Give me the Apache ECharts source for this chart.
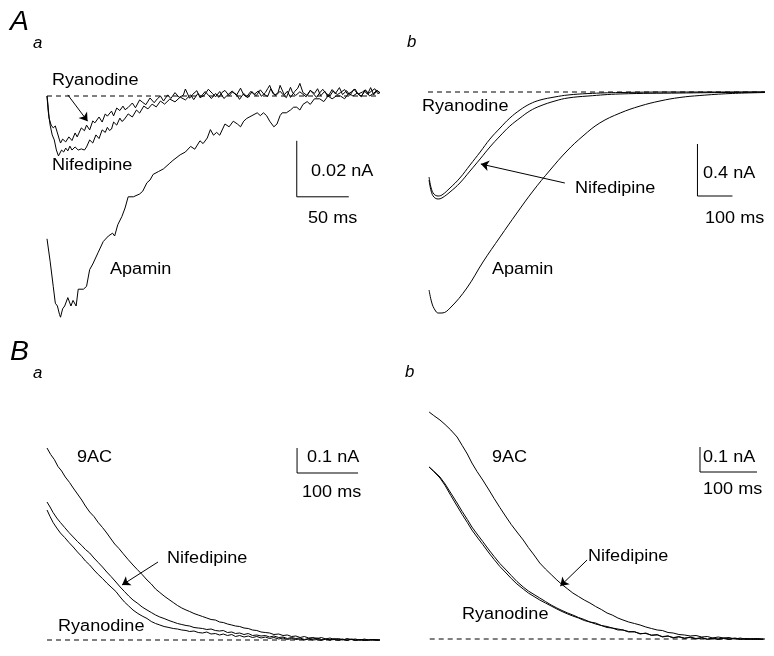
<!DOCTYPE html>
<html><head><meta charset="utf-8">
<script src="https://cdn.jsdelivr.net/npm/echarts@6/dist/echarts.min.js"></script>
<style>html,body{margin:0;padding:0;background:#fff}#chart{width:774px;height:656px}</style>
</head><body><div id="chart"></div>
<script>
// ---------- Panel A a : time (ms), current (pA) ----------
const aaRyanodine = [[0,0],[1,-3.2],[2,-7.9],[4,-10.4],[6,-11.4],[8,-10.7],[10,-13.2],[12,-15.7],[13,-16.8],[15,-15.4],[18,-16.4],[21,-14.6],[24,-15.9],[27,-13.2],[29,-14.6],[33,-11.4],[36,-12.4],[38,-10.4],[41,-12.1],[44,-8.9],[46,-9.6],[50,-7.5],[53,-9.3],[56,-6.4],[58,-7.2],[62,-5.4],[64,-7.1],[67,-4.3],[70,-5.2],[73,-3.6],[75,-4.9],[78,-4.1],[82,-2.5],[85,-4.2],[89,-1.4],[92,-2.3],[95,-3.1],[99,-0.7],[103,-2.4],[106,-1.0],[109,0],[112,-1.8],[116,0.4],[119,-0.9],[123,1.2],[127,-0.5],[131,0.3],[133,2.5],[137,-0.8],[140,0.6],[144,1.9],[147,-0.6],[151,0.2],[155,2.4],[159,0.9],[162,-0.3],[166,1.6],[170,-0.9],[174,0.5],[178,1.8],[182,0.2],[186,2.8],[189,0.4],[193,-0.6],[197,1.5],[201,0.1],[205,2.2],[208,0.8],[212,-0.2],[215,2.6],[219,0.3],[222,1.2],[224,3.8],[228,0.4],[231,1.7],[234,-0.5],[238,1.6],[241,2.8],[243,4.5],[246,1.2],[250,0.2],[253,2.0],[257,0.9],[260,2.6],[263,0.1],[267,1.7],[270,-0.2],[274,2.3],[277,0.8],[281,3.0],[284,0.5],[288,1.9],[291,0.2],[295,2.4],[298,1.0],[302,-0.3],[305,1.8],[308,0.6],[311,3.0],[314,0.4],[317,2.0],[320,1.2]];
const aaNifedipine = [[0,0],[1,-5],[3,-10.4],[5,-13.9],[7,-15.7],[9,-19.3],[11,-21.4],[12.5,-21.8],[14,-19.3],[16,-20],[18,-18.6],[20,-19.6],[22,-17.9],[24,-19.3],[27,-18.2],[30,-19.3],[33,-18.9],[36,-19.3],[38,-18.2],[41,-15.7],[44,-16.8],[47,-13.9],[50,-15.2],[53,-12.1],[56,-13.0],[58,-11.2],[60,-12.3],[62,-11.8],[64,-9.3],[67,-10.4],[70,-7.9],[72,-9.1],[74,-8.5],[78,-6.4],[82,-7.5],[86,-5],[89,-6.1],[93,-3.6],[97,-4.6],[101,-2.9],[105,-3.9],[109,-1.8],[113,-2.9],[118,-1.1],[123,-2.1],[128,-0.4],[133,-1.4],[138,0.4],[141,-1.3],[145,0.9],[148,-0.2],[152,1.6],[155,0.3],[158,-0.9],[162,0.9],[165,-0.5],[168,1.2],[171,2.0],[175,0.1],[178,1.4],[182,0.6],[185,-1.2],[189,0.9],[192,-0.2],[196,1.7],[199,0.5],[203,1.8],[206,-0.1],[210,1.3],[212,2.6],[214,3.8],[217,0.9],[220,0.2],[224,1.7],[227,0.4],[230,-0.6],[234,3.1],[236,1.2],[239,0.2],[243,1.5],[246,0.6],[249,-0.3],[253,2.0],[256,0.8],[259,-0.5],[262,1.1],[265,2.4],[268,0.9],[272,0.1],[275,1.8],[279,0.5],[282,1.2],[286,2.3],[289,0.6],[293,1.6],[296,2.5],[299,0.7],[303,1.4],[306,2.2],[309,0.9],[312,1.8],[315,2.6],[318,0.8],[320,1.3]];
const aaApamin = [[0,-51],[3,-59],[6,-68],[8,-74],[10,-75],[12,-78],[13,-79],[15,-76],[17,-75],[20,-72],[23,-75],[25,-73],[28,-75],[30,-69],[35,-69],[38,-68],[41,-62],[44,-60],[49,-56],[54,-52],[59,-50],[63,-49],[65,-50],[68,-46],[72,-43],[75,-40],[78,-36],[83,-36],[89,-35],[92,-34],[96,-31],[99,-30],[102,-28],[107,-27],[112,-26],[118,-24],[121,-23],[128,-21],[133,-20],[138,-18],[142,-19],[147,-16],[150,-17],[154,-15],[157,-12],[160,-14],[163,-13],[166,-14],[171,-10],[175,-11],[179,-9],[183,-10],[186,-11],[189,-9],[192,-8],[197,-7],[202,-6],[205,-7],[208,-6],[211,-7],[214,-9],[218,-11],[221,-10],[224,-7],[226,-6],[230,-6],[234,-5],[237,-4],[240,-4],[243,-5],[246,-3],[250,-2],[253,-3],[257,-1],[262,-1],[266,-2],[270,0],[274,-1],[278,0],[282,0],[286,-1],[290,1],[294,0],[298,1],[302,0],[306,2],[310,0],[314,1],[317,2],[320,1]];

// ---------- Panel A b : time (ms), current (nA) ----------
const abRyanodine = [[3,-0.654],[9,-0.738],[17,-0.785],[29,-0.8],[40,-0.792],[63,-0.738],[91,-0.662],[120,-0.562],[149,-0.462],[177,-0.362],[206,-0.277],[234,-0.2],[263,-0.138],[291,-0.092],[320,-0.062],[363,-0.038],[400,-0.023],[457,-0.012],[549,-0.004],[720,0],[963,0]];
const abNifedipine = [[3,-0.677],[9,-0.762],[17,-0.808],[29,-0.823],[40,-0.815],[63,-0.769],[91,-0.7],[120,-0.608],[149,-0.515],[177,-0.423],[206,-0.338],[234,-0.262],[263,-0.2],[291,-0.146],[320,-0.108],[363,-0.069],[400,-0.046],[457,-0.031],[549,-0.015],[720,-0.008],[963,0]];
const abApamin = [[3,-1.523],[11,-1.623],[20,-1.677],[29,-1.7],[40,-1.7],[63,-1.662],[111,-1.508],[157,-1.308],[206,-1.115],[254,-0.931],[300,-0.762],[349,-0.6],[397,-0.454],[443,-0.338],[491,-0.238],[549,-0.162],[606,-0.108],[663,-0.069],[720,-0.042],[777,-0.027],[863,-0.012],[963,-0.004]];

// ---------- Panel B a : time (ms), current (nA) ----------
const ba9AC = [[0,0.768],[6,0.742],[12,0.722],[18,0.694],[24,0.676],[30,0.652],[37,0.63],[43,0.608],[50,0.584],[57,0.56],[63,0.536],[70,0.512],[77,0.494],[84,0.47],[91,0.45],[98,0.428],[105,0.404],[111,0.384],[118,0.366],[125,0.345],[133,0.322],[141,0.3],[148,0.282],[156,0.262],[164,0.24],[171,0.224],[178,0.204],[185,0.19],[192,0.176],[200,0.162],[207,0.15],[214,0.138],[221,0.128],[228,0.12],[234,0.114],[241,0.106],[248,0.1],[255,0.094],[262,0.088],[269,0.082],[276,0.08],[283,0.072],[289,0.07],[296,0.064],[303,0.06],[309,0.056],[316,0.054],[323,0.048],[330,0.046],[337,0.04],[344,0.038],[351,0.032],[358,0.03],[365,0.028],[372,0.022],[380,0.024],[387,0.018],[394,0.02],[401,0.014],[408,0.016],[415,0.01],[422,0.014],[429,0.008],[436,0.01],[443,0.006],[450,0.01],[457,0.004],[464,0.008],[471,0.002],[478,0.006],[485,0],[492,0.006],[499,0.002],[506,0.004],[513,-0.002],[520,0.004],[527,0],[534,0.002],[541,-0.002],[546,0]];
const baNifedipine = [[0,0.552],[5,0.532],[10,0.51],[16,0.488],[22,0.47],[29,0.45],[36,0.43],[43,0.412],[50,0.394],[57,0.378],[63,0.362],[70,0.348],[77,0.328],[84,0.31],[91,0.292],[98,0.272],[105,0.254],[113,0.232],[120,0.212],[127,0.194],[134,0.176],[141,0.16],[149,0.146],[156,0.132],[164,0.12],[171,0.11],[178,0.1],[185,0.092],[192,0.086],[200,0.078],[207,0.072],[214,0.066],[221,0.062],[228,0.058],[234,0.056],[241,0.05],[248,0.048],[255,0.046],[262,0.042],[269,0.044],[276,0.038],[283,0.036],[289,0.038],[296,0.03],[303,0.032],[309,0.026],[316,0.028],[323,0.022],[330,0.026],[337,0.018],[344,0.02],[351,0.016],[358,0.018],[365,0.012],[372,0.016],[380,0.01],[387,0.012],[394,0.006],[401,0.01],[408,0.006],[415,0.008],[422,0.002],[429,0.006],[436,0.004],[443,0.008],[450,0.002],[457,0.004],[464,0],[471,0.006],[478,0.002],[485,0.004],[492,-0.002],[499,0.004],[506,0],[513,0.002],[520,-0.002],[527,0.002],[534,0],[541,0.002],[546,0]];
const baRyanodine = [[0,0.52],[5,0.494],[10,0.47],[16,0.448],[22,0.428],[29,0.41],[36,0.39],[43,0.372],[50,0.352],[57,0.334],[63,0.316],[70,0.3],[77,0.28],[84,0.262],[91,0.246],[98,0.228],[105,0.212],[113,0.194],[120,0.172],[127,0.152],[134,0.136],[141,0.12],[149,0.106],[156,0.096],[164,0.086],[171,0.074],[178,0.066],[185,0.06],[192,0.054],[200,0.05],[207,0.046],[214,0.044],[221,0.04],[228,0.038],[234,0.034],[241,0.036],[248,0.03],[255,0.028],[262,0.032],[269,0.024],[276,0.026],[283,0.02],[289,0.024],[296,0.018],[303,0.022],[309,0.014],[316,0.018],[323,0.012],[330,0.016],[337,0.01],[344,0.014],[351,0.008],[358,0.012],[365,0.006],[372,0.01],[380,0.004],[387,0.008],[394,0.002],[401,0.006],[408,0.002],[415,0.004],[422,0],[429,0.004],[436,0],[443,0.002],[450,-0.002],[457,0.004],[464,0],[471,0.002],[478,-0.002],[485,0.002],[492,0],[499,0.002],[506,-0.002],[513,0.002],[520,0],[527,-0.002],[534,0.002],[541,0],[546,0]];

// ---------- Panel B b : time (ms), current (nA) ----------
const bb9AC = [[2,0.908],[10,0.894],[21,0.876],[30,0.858],[40,0.836],[51,0.808],[60,0.774],[69,0.74],[77,0.704],[86,0.67],[96,0.636],[107,0.596],[116,0.562],[126,0.526],[137,0.488],[146,0.458],[156,0.428],[167,0.396],[176,0.366],[186,0.336],[196,0.304],[206,0.28],[216,0.258],[226,0.236],[235,0.218],[245,0.2],[254,0.184],[264,0.17],[274,0.156],[284,0.144],[294,0.13],[304,0.118],[314,0.104],[323,0.096],[333,0.084],[342,0.076],[352,0.068],[362,0.062],[372,0.056],[382,0.048],[392,0.042],[402,0.036],[411,0.034],[421,0.026],[430,0.024],[440,0.018],[450,0.016],[460,0.012],[470,0.014],[480,0.008],[490,0.01],[499,0.004],[509,0.008],[518,0.004],[528,0.006],[538,0],[548,0.004],[558,-0.002],[568,0.002],[578,-0.002],[588,0]];
const bbNifedipine = [[2,0.688],[10,0.672],[21,0.648],[30,0.62],[40,0.584],[51,0.544],[60,0.51],[69,0.478],[77,0.448],[86,0.42],[96,0.39],[107,0.356],[116,0.33],[126,0.302],[137,0.276],[146,0.254],[156,0.23],[167,0.208],[176,0.192],[186,0.178],[196,0.164],[206,0.15],[216,0.136],[226,0.124],[235,0.114],[245,0.104],[254,0.096],[264,0.086],[274,0.078],[284,0.068],[294,0.064],[304,0.054],[314,0.05],[323,0.044],[333,0.04],[342,0.036],[352,0.03],[362,0.028],[372,0.022],[382,0.022],[392,0.016],[402,0.016],[411,0.01],[421,0.012],[430,0.006],[440,0.008],[450,0.004],[460,0.006],[470,0],[480,0.004],[490,0],[499,0.002],[509,-0.002],[518,0.002],[528,-0.002],[538,0.002],[548,-0.002],[558,0],[568,-0.002],[578,0],[588,-0.002]];
const bbRyanodine = [[2,0.688],[10,0.67],[21,0.644],[30,0.614],[40,0.574],[51,0.532],[60,0.498],[69,0.466],[77,0.436],[86,0.408],[96,0.378],[107,0.344],[116,0.318],[126,0.29],[137,0.264],[146,0.242],[156,0.22],[167,0.2],[176,0.184],[186,0.17],[196,0.156],[206,0.144],[216,0.132],[226,0.12],[235,0.11],[245,0.1],[254,0.092],[264,0.084],[274,0.074],[284,0.068],[294,0.06],[304,0.054],[314,0.046],[323,0.044],[333,0.036],[342,0.036],[352,0.028],[362,0.03],[372,0.02],[382,0.024],[392,0.014],[402,0.018],[411,0.008],[421,0.012],[430,0.004],[440,0.01],[450,0.002],[460,0.008],[470,0.002],[480,0.006],[490,-0.002],[499,0.004],[509,0],[518,0.004],[528,0],[538,0.004],[548,0],[558,0.002],[568,0],[578,0.002],[588,0]];

// ---------- Scale bars (data units of each panel) ----------
const aaScaleBar = [[240,-16],[240,-36],[290,-36]];      // 20 pA (0.02 nA), 50 ms
const abScaleBar = [[770,-0.4],[770,-0.8],[870,-0.8]];   // 0.4 nA, 100 ms
const baScaleBar = [[410,0.768],[410,0.668],[510,0.668]];// 0.1 nA, 100 ms
const bbScaleBar = [[477,0.768],[477,0.668],[577,0.668]];// 0.1 nA, 100 ms
const aaBaseline = [[0,0],[320,0]];
const abBaseline = [[0,0],[963,0]];
const baBaseline = [[0,0],[546,0]];
const bbBaseline = [[3,0],[591,0]];
// arrows [from, to]
const aaArrow = [[20,0.4],[39,-9]];
const abArrow = [[391,-0.7],[151,-0.554]];
const baArrow = [[182,0.312],[123,0.22]];
const bbArrow = [[279,0.316],[232,0.212]];

// ---------- Layout ----------
const grids = [
  {left:47, top:68, width:333, height:266},
  {left:428, top:79, width:337, height:247},
  {left:47, top:402.5, width:333, height:250},
  {left:428, top:401.5, width:337, height:250}
];
const xRanges = [[0,320],[0,963],[0,546],[0,591]];
const yRanges = [[-85,10],[-1.8,0.1],[-0.05,0.95],[-0.05,0.95]];

const FONT = '"Liberation Sans", Arial, Helvetica, sans-serif';
const labels = [
  ['A',10,22,27,true],['a',33,44,16,true],['b',407,43,16,true],
  ['B',10,352,27,true],['a',33,374,16,true],['b',405,373,16,true],
  ['Ryanodine',52,81,16,false],['Nifedipine',52,166,16,false],['Apamin',110,270,16,false],['0.02 nA',311,172,16,false],['50 ms',308,219,16,false],
  ['Ryanodine',422,107,16,false],['Nifedipine',575,189,16,false],['Apamin',492,270,16,false],['0.4 nA',703,174,16,false],['100 ms',705,219,16,false],
  ['9AC',77,458,16,false],['Nifedipine',167,559,16,false],['Ryanodine',58,627,16,false],['0.1 nA',307,458,16,false],['100 ms',302,493,16,false],
  ['9AC',492,458,16,false],['Nifedipine',588,557,16,false],['Ryanodine',462,615,16,false],['0.1 nA',703,458,16,false],['100 ms',703,490,16,false]
];

function line(gi, data, extra) {
  return Object.assign({
    type:'line', xAxisIndex:gi, yAxisIndex:gi, data:data, symbol:'none',
    lineStyle:{color:'#000', width:1}, silent:true, animation:false, z:3
  }, extra||{});
}
function arrowMark(a) {
  return {
    silent:true, animation:false, symbol:['none','arrow'], symbolSize:8,
    label:{show:false}, lineStyle:{color:'#000', width:1, type:'solid'},
    data:[[{coord:a[0]},{coord:a[1]}]]
  };
}
function dashed(gi, data) {
  return line(gi, data, {lineStyle:{color:'#000', width:1, type:[5,4]}, z:2});
}

const series = [
  dashed(0, aaBaseline), dashed(1, abBaseline), dashed(2, baBaseline), dashed(3, bbBaseline),
  line(0, aaRyanodine, {markLine: arrowMark(aaArrow)}), line(0, aaNifedipine), line(0, aaApamin), line(0, aaScaleBar),
  line(1, abRyanodine, {smooth:0.4}), line(1, abNifedipine, {smooth:0.4, markLine: arrowMark(abArrow)}), line(1, abApamin, {smooth:0.4}), line(1, abScaleBar),
  line(2, ba9AC), line(2, baNifedipine, {markLine: arrowMark(baArrow)}), line(2, baRyanodine), line(2, baScaleBar),
  line(3, bb9AC, {markLine: arrowMark(bbArrow)}), line(3, bbNifedipine), line(3, bbRyanodine), line(3, bbScaleBar)
];

const chart = echarts.init(document.getElementById('chart'), null, {renderer:'canvas'});
chart.setOption({
  animation:false,
  backgroundColor:'#fff',
  grid: grids,
  xAxis: xRanges.map((r,i)=>({type:'value', gridIndex:i, min:r[0], max:r[1], show:false})),
  yAxis: yRanges.map((r,i)=>({type:'value', gridIndex:i, min:r[0], max:r[1], show:false})),
  series: series,
  graphic: labels.map(l=>({
    type:'text', x:l[1], y:l[2], scaleX: l[4] ? 1.05 : 1.13, silent:true,
    style:{text:l[0], x:0, y:0, fill:'#000',
      font:(l[4]?'italic ':'')+l[3]+'px '+FONT,
      textAlign:'left', textVerticalAlign:'middle', align:'left', verticalAlign:'middle'}
  }))
});
</script></body></html>
